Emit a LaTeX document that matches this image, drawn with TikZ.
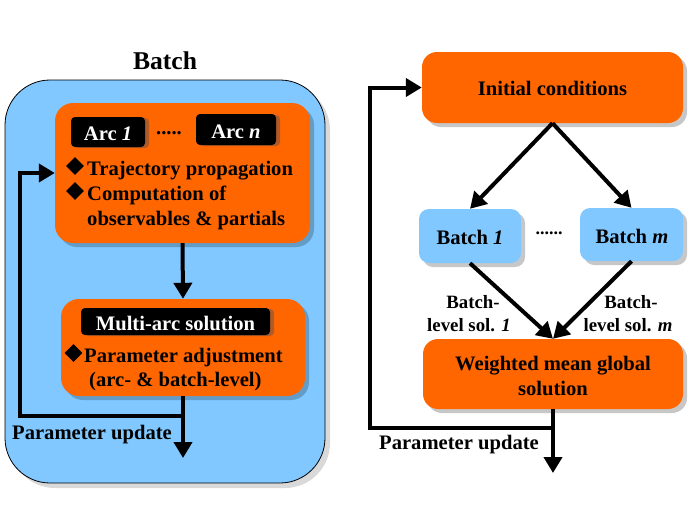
\documentclass[tikz,border=0pt]{standalone}
\usepackage{fontspec}
\setmainfont{Liberation Serif}
\usetikzlibrary{arrows.meta,shadows,shapes.geometric}
\definecolor{myorange}{RGB}{255,102,0}
\definecolor{myblue}{RGB}{128,200,255}
\definecolor{arcshadow}{RGB}{176,90,40}
\tikzset{
  shd/.style={drop shadow={shadow xshift=4pt,shadow yshift=-4pt,fill=black,opacity=0.22}},
  obox/.style={rectangle,rounded corners=18pt,fill=myorange,shd,inner sep=0pt},
  bbox/.style={rectangle,rounded corners=10pt,fill=myblue,shd,inner sep=0pt},
  kbox/.style={rectangle,rounded corners=4pt,fill=black,inner sep=0pt,
     drop shadow={shadow xshift=4pt,shadow yshift=-1pt,fill=arcshadow,opacity=1}},
  txt/.style={inner sep=0pt,anchor=base,font=\fontsize{20.6}{25}\selectfont\bfseries},
  txtl/.style={txt,anchor=base west},
  lbl/.style={inner sep=0pt,anchor=base,font=\fontsize{18.8}{23}\selectfont\bfseries},
  wtxt/.style={txt,text=white},
  bul/.style={diamond,fill=black,inner sep=0pt,minimum size=18pt},
  arr/.style={line width=4pt,-{Triangle[length=16pt,width=18pt]}},
  ln/.style={line width=4pt},
}
\begin{document}
\begin{tikzpicture}[x=1pt,y=-1pt]
\useasboundingbox (0,0) rectangle (690,517);
% ---------- left: batch ----------
\node[txt,font=\fontsize{25.6}{30}\selectfont\bfseries] (title) at (165,69) {Batch};
\node[rectangle,rounded corners=45pt,fill=myblue,draw=black,line width=0.8pt,
  drop shadow={shadow xshift=5pt,shadow yshift=-5pt,fill=black,opacity=0.15},
  minimum width=320pt,minimum height=403pt] (batchbox) at (165,281.5) {};
\node[obox,minimum width=255pt,minimum height=140pt] (box1) at (182.5,173) {};
\node[obox,minimum width=244pt,minimum height=97pt] (box2) at (183,347.5) {};
\node[kbox,minimum width=74pt,minimum height=30pt] (arc1) at (108,132) {};
\node[wtxt] (arc1t) at (108,140) {Arc \textit{1}};
\node[kbox,minimum width=80pt,minimum height=31pt] (arcn) at (236,129.5) {};
\node[wtxt] (arcnt) at (236,138) {Arc \textit{n}};
\node[txt] (dotsL) at (169,134) {.....};
\node[bul] (d1) at (75,166) {};
\node[txtl] (t1) at (87,175) {Trajectory propagation};
\node[bul] (d2) at (75,191) {};
\node[txtl] (t2) at (87,200) {Computation of};
\node[txtl] (t3) at (87,225) {observables \& partials};
\node[kbox,minimum width=189pt,minimum height=27pt] (multi) at (175.5,321.5) {};
\node[wtxt] (multit) at (175.5,330) {Multi-arc solution};
\node[bul] (d3) at (73.5,353) {};
\node[txtl] (t4) at (84,362) {Parameter adjustment};
\node[txtl] (t5) at (89,386) {(arc- \& batch-level)};
\node[txtl] (updL) at (12,439) {Parameter update};
\coordinate (jL) at (183,416);
\coordinate (outL) at (183,458);
\coordinate (cL) at (20,416);
\draw[arr] (box1.south) -- (box2.north);
\draw[arr] (box2.south) -- (outL);
\draw[ln] (jL) -- (cL) -- (cL |- box1.west);
\draw[arr] ([xshift=-2pt]cL |- box1.west) -- (box1.west);
% ---------- right ----------
\node[obox,rounded corners=15pt,minimum width=261pt,minimum height=71pt] (init) at (552.5,87.5) {};
\node[txt] (initt) at (552.5,95) {Initial conditions};
\node[bbox,minimum width=102pt,minimum height=54pt] (b1) at (470,236) {};
\node[txt] (b1t) at (470,244) {Batch \textit{1}};
\node[bbox,minimum width=103pt,minimum height=53pt] (bm) at (631.5,234.5) {};
\node[txt] (bmt) at (632,243) {Batch \textit{m}};
\node[lbl,font=\fontsize{18}{22}\selectfont\bfseries] (dotsR) at (549,234) {......};
\node[obox,rounded corners=15pt,minimum width=260pt,minimum height=70pt] (wm) at (553,374) {};
\node[txt] (wmt1) at (553,370) {Weighted mean global};
\node[txt] (wmt2) at (553,395) {solution};
\node[lbl] (l1a) at (473,308) {Batch-};
\node[lbl] (l1b) at (469,331) {level sol. \textit{1}};
\node[lbl] (lma) at (631,308) {Batch-};
\node[lbl] (lmb) at (628,331) {level sol. \textit{m}};
\node[txtl] (updR) at (379,449) {Parameter update};
\draw[arr] (init.south) -- (b1.north);
\draw[arr] (init.south) -- (bm.north);
\draw[arr] (b1.south) -- (wm.north);
\draw[arr] (bm.south) -- (wm.north);
\coordinate (jR) at (553,428);
\coordinate (outR) at (553,473);
\coordinate (cR) at (370,428);
\draw[arr] (wm.south) -- (outR);
\draw[ln] (jR) -- (cR) -- (cR |- init.west);
\draw[arr] ([xshift=-2pt]cR |- init.west) -- (init.west);
\end{tikzpicture}
\end{document}
